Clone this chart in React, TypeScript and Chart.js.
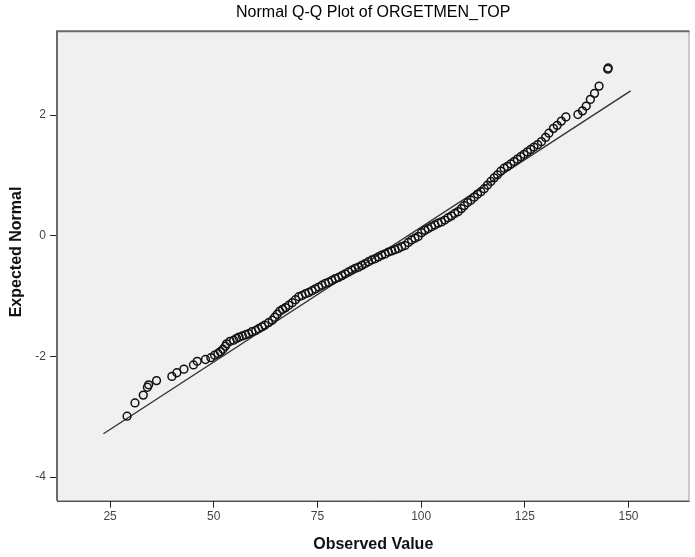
import React, { useEffect, useRef } from "react";
import { Chart, registerables } from "chart.js";

Chart.register(...registerables);

const observedValues: number[] = [
  29.1, 31.0, 33.0, 34.0, 34.3, 36.2, 39.9, 41.1, 42.8, 45.1, 46.0, 48.0, 49.3, 50.2, 51.0,
  51.6, 52.2, 52.8, 53.1, 53.9, 54.8, 55.5, 56.1, 56.9, 57.7, 58.4, 59.2, 60.1, 60.8, 61.6,
  62.3, 63.2, 64.1, 64.7, 65.3, 65.9, 66.6, 67.3, 68.1, 68.9, 69.7, 70.5, 71.3, 72.1, 72.9,
  73.7, 74.5, 75.3, 76.1, 76.9, 77.7, 78.5, 79.3, 80.1, 80.9, 81.7, 82.5, 83.3, 84.1, 84.9,
  85.7, 86.5, 87.3, 88.1, 88.9, 89.7, 90.5, 91.3, 92.1, 92.9, 93.7, 94.5, 95.3, 96.1, 96.9,
  97.7, 98.5, 99.3, 100.1, 100.9, 101.7, 102.5, 103.3, 104.1, 104.9, 105.7, 106.5, 107.3,
  108.1, 108.9, 109.7, 110.4, 111.2, 112.0, 112.8, 113.6, 114.4, 115.2, 116.0, 116.8, 117.6,
  118.4, 119.2, 120.0, 120.8, 121.6, 122.4, 123.2, 124.0, 124.8, 125.6, 126.4, 127.2, 128.1,
  129.0, 130.0, 130.8, 131.9, 132.8, 133.8, 134.9, 137.8, 138.9, 139.8, 140.8, 141.8, 142.9,
  145.0, 145.1,
];

const expectedNormal: number[] = [
  -2.99, -2.77, -2.64, -2.51, -2.47, -2.4, -2.33, -2.27, -2.21, -2.14, -2.08, -2.05, -2.02, -1.98, -1.95,
  -1.92, -1.88, -1.83, -1.79, -1.75, -1.73, -1.7, -1.68, -1.66, -1.64, -1.62, -1.59, -1.57, -1.54, -1.51,
  -1.48, -1.44, -1.4, -1.35, -1.3, -1.25, -1.22, -1.19, -1.15, -1.11, -1.06, -1.01, -0.99, -0.96, -0.94,
  -0.91, -0.88, -0.85, -0.82, -0.79, -0.77, -0.74, -0.71, -0.69, -0.66, -0.63, -0.6, -0.57, -0.54, -0.52,
  -0.49, -0.46, -0.43, -0.4, -0.38, -0.35, -0.32, -0.3, -0.27, -0.25, -0.23, -0.21, -0.18, -0.16, -0.11,
  -0.07, -0.04, -0.01, 0.05, 0.09, 0.12, 0.15, 0.18, 0.21, 0.23, 0.26, 0.3, 0.33,
  0.37, 0.4, 0.45, 0.5, 0.55, 0.59, 0.64, 0.69, 0.73, 0.78, 0.84, 0.9, 0.96,
  1.01, 1.07, 1.12, 1.15, 1.19, 1.23, 1.27, 1.31, 1.35, 1.39, 1.43, 1.47, 1.51,
  1.56, 1.63, 1.7, 1.78, 1.83, 1.9, 1.97, 2.01, 2.07, 2.15, 2.26, 2.36, 2.48,
  2.76, 2.78,
];

// reference line end points (observed value, expected normal)
const lineX: number[] = [23.4, 150.5];
const lineY: number[] = [-3.28, 2.4];

const xTicks: number[] = [25, 50, 75, 100, 125, 150];
const yTicks: number[] = [-4, -2, 0, 2];

const chartTitle = "Normal Q-Q Plot of ORGETMEN_TOP";
const xTitle = "Observed Value";
const yTitle = "Expected Normal";

const FONT = "'Liberation Sans', Arial, sans-serif";

const plotFrame = {
  id: "plotFrame",
  beforeDatasetsDraw(chart: any) {
    const { ctx, chartArea } = chart;
    const { left, top, right, bottom } = chartArea;
    ctx.save();
    ctx.fillStyle = "#f0f0f0";
    ctx.fillRect(left, top, right - left, bottom - top);
    ctx.restore();
  },
  afterDraw(chart: any) {
    const { ctx, chartArea } = chart;
    const { left, top, right, bottom } = chartArea;
    ctx.save();
    ctx.strokeStyle = "#a0a0a0";
    ctx.lineWidth = 1;
    ctx.beginPath();
    ctx.moveTo(right - 0.5, top);
    ctx.lineTo(right - 0.5, bottom);
    ctx.stroke();
    ctx.strokeStyle = "#6a6a6a";
    ctx.lineWidth = 2;
    ctx.beginPath();
    ctx.moveTo(left, bottom);
    ctx.lineTo(left, top);
    ctx.lineTo(right, top);
    ctx.stroke();
    ctx.strokeStyle = "#000";
    ctx.lineWidth = 1;
    ctx.beginPath();
    ctx.moveTo(left, bottom + 0.5);
    ctx.lineTo(right, bottom + 0.5);
    ctx.stroke();

    // y axis title
    ctx.translate(17, (top + bottom) / 2 - 14);
    ctx.rotate(-Math.PI / 2);
    ctx.font = `bold 16px ${FONT}`;
    ctx.fillStyle = "#111";
    ctx.textAlign = "center";
    ctx.textBaseline = "middle";
    ctx.fillText(yTitle, 0, 0);
    ctx.restore();
  },
};

export default function App() {
  const ref = useRef<HTMLCanvasElement | null>(null);

  useEffect(() => {
    document.body.style.margin = "0";
    const canvas = ref.current;
    if (!canvas) return;
    const points = observedValues.map((v, i) => ({ x: v, y: expectedNormal[i] }));
    const line = lineX.map((v, i) => ({ x: v, y: lineY[i] }));
    const chart = new Chart(canvas, {
      type: "scatter",
      data: {
        datasets: [
          {
            label: "Observed",
            data: points,
            pointStyle: "circle",
            pointRadius: 3.9,
            pointBorderWidth: 1.5,
            borderColor: "#111",
            backgroundColor: "rgba(0,0,0,0)",
            showLine: false,
          },
          {
            label: "Line",
            data: line,
            showLine: true,
            pointRadius: 0,
            borderColor: "#333",
            borderWidth: 1.4,
            fill: false,
          },
        ],
      },
      options: {
        animation: false,
        responsive: false,
        devicePixelRatio: 1,
        layout: { padding: { top: 0, right: 2, left: 0, bottom: 0 } },
        plugins: {
          legend: { display: false },
          tooltip: { enabled: false },
          title: {
            display: true,
            fullSize: false,
            text: chartTitle,
            color: "#000",
            font: { family: FONT, size: 16, weight: "normal" },
            padding: { top: 3, bottom: 9 },
          },
        },
        scales: {
          x: {
            type: "linear",
            min: 12.2,
            max: 164.7,
            afterBuildTicks: (scale: any) => {
              scale.ticks = xTicks.map((v) => ({ value: v }));
            },
            afterFit: (scale: any) => {
              scale.height = 56.3;
            },
            grid: {
              display: true,
              drawOnChartArea: false,
              drawTicks: true,
              tickLength: 7,
              tickWidth: 1,
              tickColor: "#222",
            },
            border: { display: false },
            ticks: {
              color: "#444",
              font: { family: FONT, size: 12 },
              padding: 2,
              maxRotation: 0,
              callback: (v: any) => String(v),
            },
            title: {
              display: true,
              text: xTitle,
              color: "#111",
              font: { family: FONT, size: 16, weight: "bold" },
              padding: { top: 0, bottom: 2.5 },
            },
          },
          y: {
            type: "linear",
            min: -4.39,
            max: 3.39,
            afterBuildTicks: (scale: any) => {
              scale.ticks = yTicks.map((v) => ({ value: v }));
            },
            afterFit: (scale: any) => {
              scale.width = 57;
            },
            grid: {
              display: true,
              drawOnChartArea: false,
              drawTicks: true,
              tickLength: 7,
              tickWidth: 1,
              tickColor: "#222",
            },
            border: { display: false },
            ticks: {
              color: "#444",
              font: { family: FONT, size: 12 },
              padding: 4,
              callback: (v: any) => String(v),
            },
            title: { display: false },
          },
        },
      },
      plugins: [plotFrame],
    });
    return () => chart.destroy();
  }, []);

  return (
    <div style={{ width: 695, height: 557, background: "#fff" }}>
      <canvas ref={ref} width={695} height={557} style={{ display: "block", width: 695, height: 557 }} />
    </div>
  );
}
